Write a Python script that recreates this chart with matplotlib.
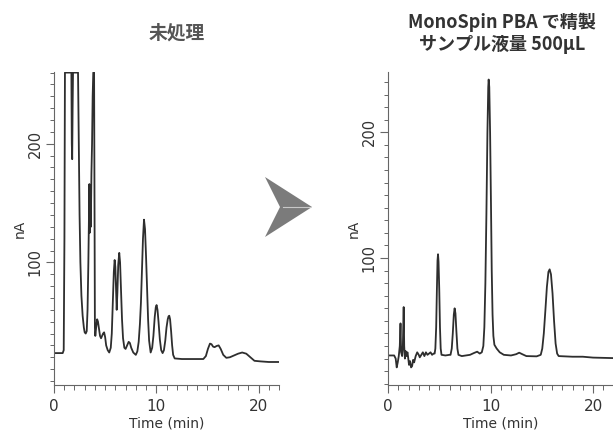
import numpy as np
import matplotlib.pyplot as plt
from matplotlib.patches import Polygon
from matplotlib.lines import Line2D
from matplotlib.ticker import MultipleLocator

plt.rcParams['font.family'] = ['DejaVu Sans']

# untreated sample (time in min, signal in nA); off-scale parts held at the top
raw_t = [0.0, 0.85, 0.95, 1.02, 1.07, 1.70, 1.74, 1.78, 1.82, 1.86, 2.35, 2.42, 2.50,
         2.58, 2.68, 2.80, 2.92, 3.00, 3.10, 3.20, 3.28, 3.36, 3.42, 3.46, 3.50, 3.55,
         3.60, 3.66, 3.72, 3.78, 3.84, 3.92, 3.96, 4.00, 4.04, 4.12, 4.22, 4.30, 4.40,
         4.50, 4.60, 4.70, 4.80, 4.90, 5.00, 5.10, 5.25, 5.40,
         5.55, 5.65, 5.75, 5.85, 5.93, 6.00, 6.07, 6.13, 6.20, 6.28, 6.38, 6.46, 6.55,
         6.65, 6.75, 6.88, 7.00, 7.15, 7.30, 7.42, 7.55, 7.75, 8.00,
         8.15, 8.28, 8.40, 8.50, 8.60, 8.70, 8.80, 8.90, 9.00, 9.10, 9.20, 9.30, 9.45,
         9.60, 9.72, 9.85, 9.95, 10.03, 10.12, 10.22, 10.35, 10.48, 10.62,
         10.75, 10.88, 11.00, 11.12, 11.20, 11.27, 11.35, 11.45, 11.55, 11.65, 11.80,
         12.5, 14.6, 14.85, 15.05, 15.25, 15.40, 15.55, 15.70, 15.90, 16.10, 16.30,
         16.55, 16.85, 17.20, 17.60, 18.00, 18.40, 18.80, 19.20, 19.60, 20.20, 21.0, 22.0]
raw_na = [23.5, 23.5, 26, 120, 260, 260, 200, 187, 230, 260, 260, 200, 140,
          100, 72, 55, 45, 41, 40, 42, 60, 100, 140, 166, 125, 160,
          130, 175, 200, 240, 260, 260, 150, 45, 38, 45, 52, 50, 44,
          38, 36, 38, 40, 41, 37, 30, 26, 24,
          28, 40, 65, 92, 102, 96, 75, 60, 75, 98, 108, 100, 78,
          52, 36, 28, 27, 30, 33, 32, 28, 24, 22,
          25, 33, 48, 66, 92, 120, 136, 128, 105, 78, 52, 34, 24,
          28, 38, 54, 62, 64, 60, 50, 35, 26, 23.5,
          26, 34, 45, 52, 54.5, 55, 52, 42, 30, 22, 19,
          18.5, 18.5, 21, 27, 31.5, 31, 29, 28.5, 29.5, 30, 27,
          22, 19.5, 20, 21.5, 23, 24, 23, 20, 17, 16.5, 16, 16]

# purified with MonoSpin PBA
pur_t = [0.0, 0.60, 0.75, 0.85, 0.95, 1.05, 1.15, 1.22, 1.28, 1.38, 1.45, 1.53, 1.58,
         1.65, 1.72, 1.80, 1.90, 1.98, 2.05, 2.15, 2.25, 2.35, 2.45, 2.55, 2.70, 2.85,
         3.00, 3.10, 3.25, 3.40, 3.55, 3.70, 3.85, 4.00, 4.15, 4.30, 4.45,
         4.55, 4.62, 4.70, 4.77, 4.83, 4.88, 4.93, 5.00, 5.07, 5.14, 5.22, 5.60,
         6.00, 6.10, 6.22, 6.32, 6.42, 6.50, 6.58, 6.67, 6.77, 6.87, 7.20,
         8.00, 8.40, 8.70, 8.95, 9.15, 9.30, 9.40, 9.50, 9.60, 9.70, 9.78, 9.82, 9.88,
         9.96, 10.05, 10.12, 10.20, 10.28, 10.38, 10.60, 10.90, 11.30, 12.00, 12.50,
         12.80, 13.10, 13.50, 14.50, 14.90, 15.05, 15.20, 15.35, 15.50, 15.65, 15.77,
         15.90, 16.05, 16.20, 16.35, 16.50, 16.65, 18.00, 19.00, 20.0, 21.95]
pur_na = [22.5, 22.5, 20, 13, 17, 22, 30, 48, 25, 22, 30, 61, 30,
          20, 26, 22, 25, 20, 15, 18, 13, 14, 19, 17, 22, 25,
          23, 21, 23, 25, 22, 25, 23, 24, 25, 23, 24,
          24, 28, 45, 75, 98, 103, 97, 75, 45, 28, 23, 22.5,
          23, 23, 28, 40, 55, 60, 56, 42, 28, 23, 22,
          23, 24.5, 25.5, 24, 25, 30, 45, 80, 135, 200, 236, 242, 236,
          200, 140, 90, 55, 38, 31, 28, 25, 23, 22.5, 23.5,
          24.7, 23.5, 22, 21.8, 23, 28, 40, 58, 77, 89, 91,
          87, 72, 50, 32, 24, 22, 21.5, 21.5, 20.8, 20.4]

W, H = 613, 432
fig = plt.figure(figsize=(W / 100, H / 100), dpi=100)

axis_col = '#666666'
text_col = '#333333'


def make_ax(left_px, ylim, xmax):
    ax = fig.add_axes([left_px / W, (H - 385) / H, 225 / W, 313 / H])
    ax.set_xlim(0, xmax)
    ax.set_ylim(*ylim)
    for s in ('top', 'right'):
        ax.spines[s].set_visible(False)
    for s in ('left', 'bottom'):
        ax.spines[s].set_color(axis_col)
        ax.spines[s].set_linewidth(0.8)
    ax.xaxis.set_major_locator(MultipleLocator(10))
    ax.xaxis.set_minor_locator(MultipleLocator(1))
    ax.yaxis.set_major_locator(MultipleLocator(100))
    ax.yaxis.set_minor_locator(MultipleLocator(10))
    ax.tick_params(axis='x', which='major', direction='out', length=6, width=0.8,
                   color=axis_col, labelsize=11, labelcolor=text_col, pad=4)
    ax.tick_params(axis='x', which='minor', direction='out', length=3.5, width=0.7,
                   color=axis_col)
    ax.tick_params(axis='y', which='major', direction='out', length=6, width=0.8,
                   color=axis_col, labelsize=10.5, labelcolor=text_col, pad=2,
                   labelrotation=90)
    ax.tick_params(axis='y', which='minor', direction='out', length=3, width=0.7,
                   color=axis_col)
    for lab in ax.get_yticklabels():
        lab.set_va('center')
    ax.set_yticks([100, 200])
    ax.set_xticks([0, 10, 20])
    ax.set_xlabel('Time (min)', fontsize=10, color=text_col, labelpad=2)
    ax.set_ylabel('nA', fontsize=10, color=text_col, labelpad=1)
    return ax


ax1 = make_ax(54, (-3.4, 260.5), 22)
ax1.plot(raw_t, raw_na, color='#2e2e2e', lw=1.3, solid_joinstyle='round')

ax2 = make_ax(388, (-1, 248), 21.95)
ax2.plot(pur_t, pur_na, color='#2e2e2e', lw=1.3, solid_joinstyle='round')

cjk = ['Noto Sans CJK JP', 'DejaVu Sans']
fig.text(177 / W, 1 - 33 / H, '未処理', ha='center', va='center', fontsize=13.5,
         fontweight='bold', color='#555555', family=cjk)
fig.text(502 / W, 1 - 22 / H, 'MonoSpin PBA で精製', ha='center', va='center',
         fontsize=13, fontweight='bold', color='#333333', family=cjk)
fig.text(502 / W, 1 - 44 / H, 'サンプル液量 500μL', ha='center', va='center',
         fontsize=13, fontweight='bold', color='#333333', family=cjk)

# grey arrow between the panels
arrow_px = [(265, 177), (312, 207), (265, 237), (280, 207)]
fig.patches.append(Polygon([(x / W, 1 - y / H) for x, y in arrow_px], closed=True,
                           transform=fig.transFigure, facecolor='#7b7b7b',
                           edgecolor='none'))
fig.lines.append(Line2D([283 / W, 310 / W], [1 - 207 / H, 1 - 207 / H],
                        transform=fig.transFigure, color='#c8c8c8', lw=0.8))

fig.savefig('out.png', dpi=100)
